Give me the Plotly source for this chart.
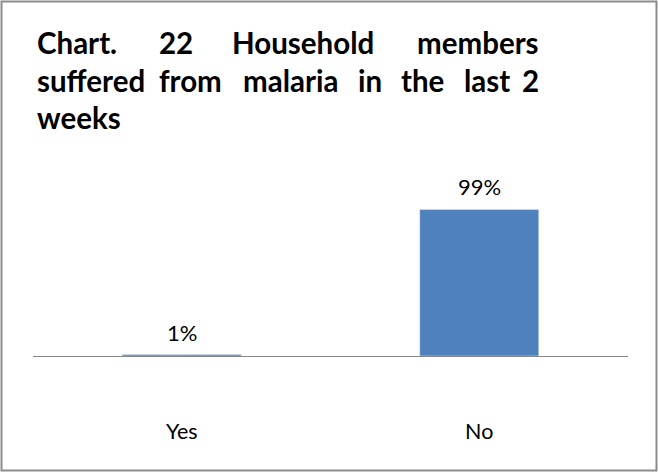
import plotly.graph_objects as go

categories = ["Yes", "No"]
values = [1, 99]
labels = ["1%", "99%"]

title_lines = [
    ["Chart.", "22", "Household", "members"],
    ["suffered", "from", "malaria", "in", "the", "last", "2"],
    ["weeks"],
]
# pixel spans of title words (layout)
title_spans = [
    [(35, 111), (162, 189), (233, 373), (418, 541)],
    [(35, 143), (159, 222), (241, 340), (359, 380), (399, 445), (464, 510), (527, 541)],
    [(35, 117)],
]
title_y = [42, 80, 117]

W, H = 658, 473
L, R, T, B = 33, 30, 208, 117
pw = W - L - R
ph = H - T - B

def px(x):
    return (x - L) / pw

def py(y):
    return (H - B - y) / ph

fig = go.Figure()
fig.add_trace(go.Bar(
    x=categories, y=values, marker_color="#4F81BD", width=0.4,
    hoverinfo="skip",
))

ann = []
for words, spans, yy in zip(title_lines, title_spans, title_y):
    n = len(words)
    for i, (w, (a, b)) in enumerate(zip(words, spans)):
        if i == 0:
            xa, xv = "left", a
        elif i == n - 1 and n > 1:
            xa, xv = "right", b
        else:
            xa, xv = "center", (a + b) / 2
        ann.append(dict(
            text="<b>%s</b>" % w, x=px(xv), y=py(yy), xref="paper", yref="paper",
            xanchor=xa, yanchor="middle", showarrow=False,
            font=dict(family="Lato", size=29.5, color="#000000"),
        ))

for c, v, t in zip(categories, values, labels):
    ann.append(dict(
        text=t, x=c, y=v, xref="x", yref="y", xanchor="center", yanchor="bottom",
        yshift=7, showarrow=False,
        font=dict(family="Lato", size=22, color="#000000"),
    ))

fig.update_layout(
    width=W, height=H,
    margin=dict(l=L, r=R, t=T, b=B),
    paper_bgcolor="white", plot_bgcolor="white",
    showlegend=False,
    annotations=ann,
    xaxis=dict(showline=True, linecolor="#868686", linewidth=1, ticks="",
               tickfont=dict(family="Lato", size=21.5, color="#000000"),
               ticklabelstandoff=56, showgrid=False, zeroline=False),
    yaxis=dict(range=[0, 100], visible=False, showgrid=False, zeroline=False),
    shapes=[dict(type="rect", xref="paper", yref="paper",
                 x0=px(1.5), x1=px(656.5), y0=py(470.5), y1=py(1.5),
                 line=dict(color="#8C8C8C", width=2), fillcolor="rgba(0,0,0,0)",
                 layer="above")],
)

fig.write_html("out.html")
